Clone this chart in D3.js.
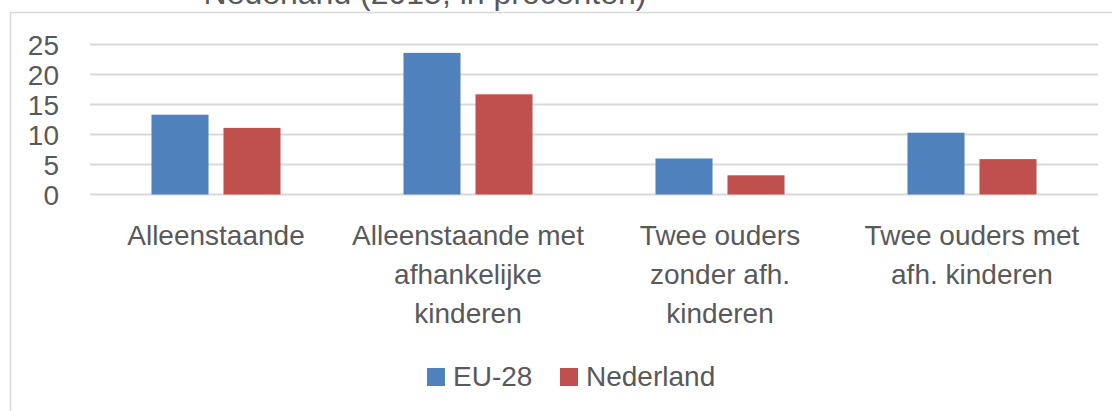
<!DOCTYPE html>
<html>
<head>
<meta charset="utf-8">
<script src="https://cdn.jsdelivr.net/npm/d3@7"></script>
<style>
  body { margin: 0; background: #fff; }
  text { font-family: "Liberation Sans", Arial, sans-serif; fill: #595959; }
</style>
</head>
<body>
<svg width="1112" height="411"></svg>
<script>
// data
var categories = ["Alleenstaande", "Alleenstaande met afhankelijke kinderen", "Twee ouders zonder afh. kinderen", "Twee ouders met afh. kinderen"];
var categoryLines = [
  ["Alleenstaande"],
  ["Alleenstaande met", "afhankelijke", "kinderen"],
  ["Twee ouders", "zonder afh.", "kinderen"],
  ["Twee ouders met", "afh. kinderen"]
];
var seriesNames = ["EU-28", "Nederland"];
var eu28 = [13.3, 23.6, 6.0, 10.3];
var nederland = [11.1, 16.7, 3.2, 5.9];
var yTicks = [0, 5, 10, 15, 20, 25];
var colors = ["#4f81bd", "#c0504d"];

var seriesValues = [eu28, nederland];

var svg = d3.select("svg");

// chart frame
svg.append("path")
  .attr("d", "M10.5,411 L10.5,12.5 L1112,12.5")
  .attr("fill", "none")
  .attr("stroke", "#d9d9d9")
  .attr("stroke-width", 1.5);

// title (partly cut off at the top)
svg.append("text")
  .attr("x", 425)
  .attr("y", 4)
  .attr("text-anchor", "middle")
  .style("font-size", "32px")
  .text("Nederland (2015, in procenten)");

var x = d3.scaleBand()
  .domain(categories)
  .range([90, 1098])
  .paddingInner(0.488)
  .paddingOuter(0.244);

var xs = d3.scaleBand()
  .domain(seriesNames)
  .range([0, x.bandwidth()])
  .paddingInner(0.208);

var y = d3.scaleLinear()
  .domain([0, 25])
  .range([194.5, 44.5]);

// gridlines
svg.append("g")
  .selectAll("line")
  .data(yTicks)
  .enter().append("line")
    .attr("x1", 90)
    .attr("x2", 1098)
    .attr("y1", function(d) { return y(d); })
    .attr("y2", function(d) { return y(d); })
    .attr("stroke", "#d9d9d9")
    .attr("stroke-width", 2);

// y labels
svg.append("g")
  .selectAll("text")
  .data(yTicks)
  .enter().append("text")
    .attr("x", 59)
    .attr("y", function(d) { return y(d); })
    .attr("dy", "0.36em")
    .attr("text-anchor", "end")
    .style("font-size", "28px")
    .text(function(d) { return d; });

// bars
var groups = svg.append("g")
  .selectAll("g")
  .data(categories)
  .enter().append("g")
    .attr("transform", function(d) { return "translate(" + x(d) + ",0)"; });

groups.selectAll("rect")
  .data(function(d, i) {
    return seriesNames.map(function(s, j) { return {series: s, value: seriesValues[j][i], j: j}; });
  })
  .enter().append("rect")
    .attr("x", function(d) { return xs(d.series); })
    .attr("width", xs.bandwidth())
    .attr("y", function(d) { return y(d.value); })
    .attr("height", function(d) { return y(0) - y(d.value); })
    .attr("fill", function(d) { return colors[d.j]; });

// category labels
var lineYs = [245, 284, 323];
svg.append("g")
  .selectAll("text")
  .data(categories)
  .enter().append("text")
    .attr("text-anchor", "middle")
    .style("font-size", "28px")
    .each(function(d, i) {
      var t = d3.select(this);
      categoryLines[i].forEach(function(line, k) {
        t.append("tspan")
          .attr("x", x(d) + x.bandwidth() / 2)
          .attr("y", lineYs[k])
          .text(line);
      });
    });

// legend
var legendX = [427, 560];
var legend = svg.append("g")
  .selectAll("g")
  .data(seriesNames)
  .enter().append("g")
    .attr("transform", function(d, i) { return "translate(" + legendX[i] + ",368)"; });

legend.append("rect")
  .attr("width", 18)
  .attr("height", 18)
  .attr("fill", function(d, i) { return colors[i]; });

legend.append("text")
  .attr("x", 26)
  .attr("y", 18)
  .style("font-size", "28px")
  .text(function(d) { return d; });
</script>
</body>
</html>
